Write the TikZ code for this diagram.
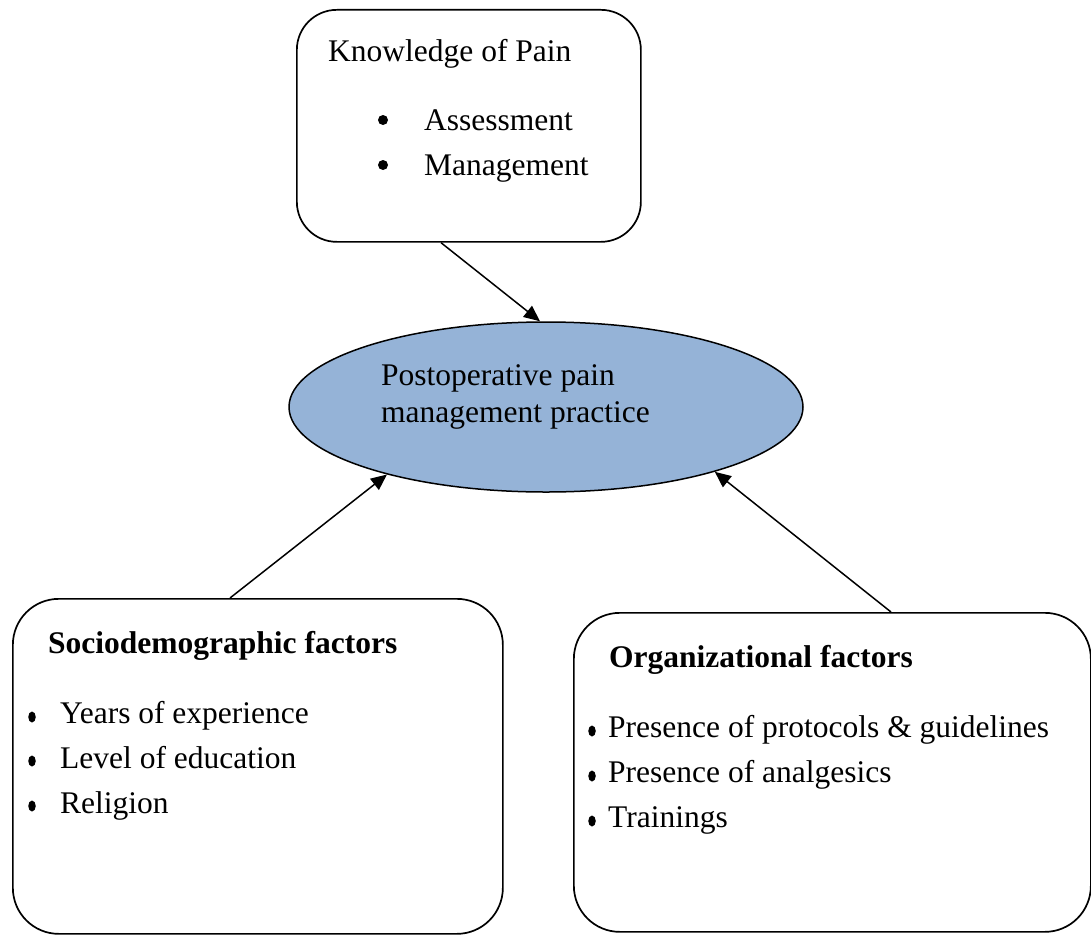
\documentclass[tikz,border=0pt]{standalone}
\usepackage{fontspec}
\setmainfont{Liberation Serif}
\usetikzlibrary{shapes.geometric,arrows.meta,calc}
\definecolor{ellblue}{RGB}{149,179,215}
\begin{document}
\begin{tikzpicture}[x=1pt,y=-1pt,
  box/.style={draw=black,line width=1.7pt,rounded corners=40pt},
  bigbox/.style={box,rounded corners=46pt},
  txt/.style={anchor=base west,inner sep=0pt,font=\fontsize{31.5}{37}\selectfont},
  btxt/.style={txt,font=\fontsize{31.5}{37}\selectfont\bfseries},
  rbul/.style={circle,fill=black,inner sep=0pt,minimum size=10pt},
  obul/.style={ellipse,fill=black,inner sep=0pt,minimum width=7.5pt,minimum height=11pt},
  arr/.style={line width=1.5pt,-{Triangle[length=16pt,width=14pt]}}]
\useasboundingbox (0,0) rectangle (1091,934);
% boxes
\node[box,minimum width=344pt,minimum height=232pt,anchor=north west] (top) at (296,9) {};
\node[bigbox,minimum width=490pt,minimum height=335pt,anchor=north west] (left) at (12,598) {};
\node[bigbox,minimum width=517pt,minimum height=319pt,anchor=north west] (right) at (573,612) {};
\node[ellipse,draw=black,line width=1.5pt,fill=ellblue,minimum width=514pt,minimum height=170pt,inner sep=0pt] (ell) at (546,407) {};
% top box text
\node[txt] (k) at (328,61) {Knowledge of Pain};
\node[rbul] (kb1) at (383,120) {};
\node[rbul] (kb2) at (383,165) {};
\node[txt] (k1) at (424,130) {Assessment};
\node[txt] (k2) at (424,175) {Management};
% ellipse text
\node[txt] (e1) at (381,385) {Postoperative pain};
\node[txt] (e2) at (381,422) {management practice};
% left box text
\node[btxt] (s) at (48,653) {Sociodemographic factors};
\node[obul] (sb1) at (32,717) {};
\node[obul] (sb2) at (32,761) {};
\node[obul] (sb3) at (32,806) {};
\node[txt] (s1) at (60,723) {Years of experience};
\node[txt] (s2) at (60,768) {Level of education};
\node[txt] (s3) at (60,813) {Religion};
% right box text
\node[btxt] (o) at (609,667) {Organizational factors};
\node[obul] (ob1) at (592,731) {};
\node[obul] (ob2) at (592,776) {};
\node[obul] (ob3) at (592,821) {};
\node[txt] (o1) at (608,737) {Presence of protocols \& guidelines};
\node[txt] (o2) at (608,782) {Presence of analgesics};
\node[txt] (o3) at (608,827) {Trainings};
% connectors
\coordinate (ts) at ($(top.south west)+(145,0)$);
\coordinate (ls) at ($(left.north west)+(218,0)$);
\coordinate (rs) at ($(right.north west)+(318,0)$);
\draw[arr] (ts) -- (ell.94);
\draw[arr] (ls) -- (ell.203);
\draw[arr] (rs) -- (ell.339);
\end{tikzpicture}
\end{document}
